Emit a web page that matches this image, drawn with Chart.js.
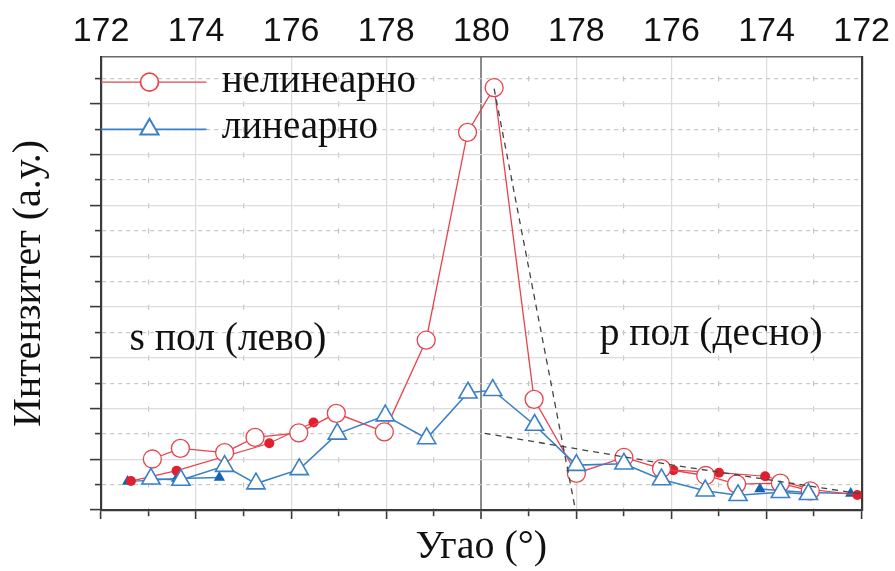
<!DOCTYPE html>
<html><head><meta charset="utf-8">
<script src="https://cdn.jsdelivr.net/npm/chart.js@4/dist/chart.umd.min.js"></script>
<style>html,body{margin:0;padding:0;background:#fff}#wrap{width:895px;height:571px}</style>
</head><body><div id="wrap"><canvas id="c" width="895" height="571"></canvas></div>
<script>
// Axis positions: 0 = left 172°, 8 = 180°, 16 = right 172°
const topTickLabels = ['172','174','176','178','180','178','176','174','172'];
const seriesNames = ['нелинеарно', 'линеарно'];
const regionLabels = ['s пол (лево)', 'p пол (десно)'];
const axisTitles = { x: 'Угао (°)', y: 'Интензитет (a.у.)' };

// нелинеарно (open circles)
const nonlinX = [1.08,1.67,2.60,3.24,4.16,4.95,5.96,6.84,7.71,8.27,9.11,10.0,11.0,11.79,12.72,13.37,14.29,14.92];
const nonlinY = [2.01,2.43,2.26,2.86,3.04,3.81,3.08,6.69,14.88,16.64,4.36,1.44,2.07,1.63,1.36,1.02,1.06,0.75];
// нелинеарно extra (filled dots)
const nonlinExtraLeftX = [0.63,1.59,3.54,4.47];
const nonlinExtraLeftY = [1.14,1.55,2.63,3.45];
const nonlinExtraRightX = [12.04,13.0,13.97,14.93,15.91];
const nonlinExtraRightY = [1.57,1.47,1.33,0.81,0.59];

// линеарно (open triangles)
const linX = [1.05,1.68,2.60,3.26,4.17,4.97,5.98,6.85,7.72,8.24,9.12,10.0,11.0,11.79,12.71,13.40,14.29,14.88];
const linY = [1.23,1.18,1.73,1.04,1.60,3.00,3.72,2.82,4.62,4.72,3.35,1.77,1.82,1.20,0.76,0.58,0.70,0.62];
// линеарно extra (filled triangles)
const linExtraLeftX = [0.56,1.59,2.49];
const linExtraLeftY = [1.12,1.24,1.28];
const linExtraRightX = [13.86,14.85,15.77];
const linExtraRightY = [0.83,0.69,0.65];

// dashed fit lines
const fitSteepX = [8.27, 9.97];
const fitSteepY = [16.6, 0.1];
const fitTailX = [8.07, 12.03, 16.0];
const fitTailY = [3.02, 1.77, 0.63];

const RED = '#e8434c', RED_FILL = '#e0202f', BLUE = '#3a80c6', BLUE_FILL = '#1462b0';
const SERIF = 'Liberation Serif', SANS = 'Liberation Sans';
const pts = (xs, ys) => xs.map((x, i) => ({ x, y: ys[i] }));

// layout for in-plot legend and labels (axis units)
const legendLayout = [
  { ds: 0, lineY: 16.86, x0: 0, x1: 2.22, mx: 1.02, tx: 2.54, ty: 16.46 },
  { ds: 1, lineY: 15.0, x0: 0, x1: 2.22, mx: 1.02, tx: 2.54, ty: 14.65 }
];
const regionLayout = [{ x: 0.6, y: 6.30 }, { x: 10.49, y: 6.50 }];

function drawMarker(ctx, style, x, y, r, fill, stroke, lw) {
  ctx.beginPath();
  if (style === 'triangle') {
    ctx.moveTo(x, y - r);
    ctx.lineTo(x + 0.866 * r, y + 0.5 * r);
    ctx.lineTo(x - 0.866 * r, y + 0.5 * r);
    ctx.closePath();
  } else {
    ctx.arc(x, y, r, 0, Math.PI * 2);
  }
  ctx.fillStyle = fill; ctx.fill();
  ctx.lineWidth = lw; ctx.strokeStyle = stroke; ctx.stroke();
}

const overlay = {
  id: 'overlay',
  afterDatasetsDraw(chart) {
    const { ctx, scales: { x, y } } = chart;
    ctx.save();
    legendLayout.forEach((it, i) => {
      const ds = chart.data.datasets[it.ds];
      const ly = y.getPixelForValue(it.lineY);
      ctx.beginPath();
      ctx.moveTo(x.getPixelForValue(it.x0), ly);
      ctx.lineTo(x.getPixelForValue(it.x1), ly);
      ctx.strokeStyle = ds.borderColor; ctx.lineWidth = ds.borderWidth; ctx.setLineDash([]);
      ctx.stroke();
      drawMarker(ctx, ds.pointStyle, x.getPixelForValue(it.mx), ly, ds.pointRadius, '#fff', ds.pointBorderColor, ds.pointBorderWidth + 0.4);
      ctx.fillStyle = '#111';
      ctx.font = '39px "' + SERIF + '"';
      ctx.textAlign = 'left'; ctx.textBaseline = 'alphabetic';
      ctx.fillText(seriesNames[i], x.getPixelForValue(it.tx), y.getPixelForValue(it.ty));
    });
    regionLayout.forEach((p, i) => {
      ctx.fillStyle = '#111';
      ctx.font = '39.5px "' + SERIF + '"';
      ctx.textAlign = 'left'; ctx.textBaseline = 'alphabetic';
      ctx.fillText(regionLabels[i], x.getPixelForValue(p.x), y.getPixelForValue(p.y));
    });
    ctx.restore();
  }
};

const isOdd = v => Math.abs(Math.round(v)) % 2 === 1;

new Chart(document.getElementById('c'), {
  type: 'line',
  data: {
    datasets: [
      { label: seriesNames[0], data: pts(nonlinX, nonlinY), borderColor: RED, borderWidth: 1.3,
        pointStyle: 'circle', pointRadius: 9, pointBorderWidth: 1.3, pointBackgroundColor: '#fff', pointBorderColor: RED, order: 2 },
      { label: seriesNames[1], data: pts(linX, linY), borderColor: BLUE, borderWidth: 1.6,
        pointStyle: 'triangle', pointRadius: 10.5, pointBorderWidth: 1.6, pointBackgroundColor: '#fff', pointBorderColor: BLUE, order: 1 },
      { label: 'nl-extra-l', data: pts(nonlinExtraLeftX, nonlinExtraLeftY), borderColor: RED, borderWidth: 1.2,
        pointStyle: 'circle', pointRadius: 5, pointBorderWidth: 0, pointBackgroundColor: RED_FILL, order: 3 },
      { label: 'nl-extra-r', data: pts(nonlinExtraRightX, nonlinExtraRightY), borderColor: RED, borderWidth: 1.2,
        pointStyle: 'circle', pointRadius: 5, pointBorderWidth: 0, pointBackgroundColor: RED_FILL, order: 3 },
      { label: 'l-extra-l', data: pts(linExtraLeftX, linExtraLeftY), borderColor: BLUE, borderWidth: 1.4,
        pointStyle: 'triangle', pointRadius: 6.5, pointBorderWidth: 0, pointBackgroundColor: BLUE_FILL, order: 4 },
      { label: 'l-extra-r', data: pts(linExtraRightX, linExtraRightY), borderColor: BLUE, borderWidth: 1.4,
        pointStyle: 'triangle', pointRadius: 6.5, pointBorderWidth: 0, pointBackgroundColor: BLUE_FILL, order: 4 },
      { label: 'fit-steep', data: pts(fitSteepX, fitSteepY), borderColor: '#444', borderWidth: 1.3, borderDash: [6, 5],
        pointRadius: 0, order: 0 },
      { label: 'fit-tail', data: pts(fitTailX, fitTailY), borderColor: '#444', borderWidth: 1.3, borderDash: [6, 5],
        pointRadius: 0, order: 0 }
    ]
  },
  options: {
    responsive: false, animation: false, devicePixelRatio: 1,
    layout: { padding: 0 },
    elements: { line: { tension: 0, fill: false } },
    plugins: { legend: { display: false }, tooltip: { enabled: false } },
    scales: {
      x: {
        type: 'linear', position: 'bottom', min: 0, max: 16,
        ticks: { stepSize: 1, display: false, includeBounds: false },
        grid: {
          color: c => c.tick && Math.round(c.tick.value) === 8 ? '#8a8a8a' : (c.tick && isOdd(c.tick.value) ? '#c4c4c4' : '#dcdcdc'),
          lineWidth: c => c.tick && Math.round(c.tick.value) === 8 ? 2 : 1.2,
          tickLength: 9, tickColor: '#3a3a3a', tickWidth: 1.6,
          tickBorderDash: c => c.tick && isOdd(c.tick.value) ? [5, 100] : [],
          drawOnChartArea: true
        },
        border: {
          color: '#3a3a3a', width: 2.2,
          dash: c => c.tick && isOdd(c.tick.value) ? [5, 20.4] : [],
          dashOffset: 6.2
        },
        title: { display: true, text: axisTitles.x, color: '#111', font: { family: SERIF, size: 40 }, padding: { top: 0, bottom: 0 } },
        afterFit: s => { s.height = 61; }
      },
      xTop: {
        type: 'linear', position: 'top', min: 0, max: 16,
        ticks: { stepSize: 2, includeBounds: false, padding: 5, color: '#111', font: { family: SANS, size: 34 },
                 maxRotation: 0, autoSkip: false,
                 callback: v => topTickLabels[Math.round(v / 2)] },
        grid: { drawOnChartArea: false, drawTicks: false },
        border: { color: '#6a6a6a', width: 1.5 },
        afterFit: s => { s.height = 57; }
      },
      y: {
        type: 'linear', position: 'left', min: 0, max: 17.85,
        ticks: { stepSize: 1, display: false, includeBounds: false },
        grid: {
          color: c => c.tick && isOdd(c.tick.value) ? '#c8c8c8' : '#dcdcdc',
          lineWidth: 1.2,
          tickLength: 11, tickColor: '#3a3a3a', tickWidth: 1.6,
          tickBorderDash: c => c.tick && isOdd(c.tick.value) ? [6, 100] : [],
          tickBorderDashOffset: c => c.tick && isOdd(c.tick.value) ? 101 : 0
        },
        border: {
          color: '#3a3a3a', width: 2.2,
          dash: c => c.tick && isOdd(c.tick.value) ? [4, 4] : []
        },
        title: { display: true, text: axisTitles.y, color: '#111', font: { family: SERIF, size: 40 }, padding: { top: 5, bottom: 0 } },
        afterFit: s => { s.width = 101; }
      },
      yRight: {
        type: 'linear', position: 'right', min: 0, max: 17.85,
        ticks: { display: false },
        grid: { drawOnChartArea: false, drawTicks: false },
        border: { color: '#3a3a3a', width: 2.2 },
        afterFit: s => { s.width = 33; }
      }
    }
  },
  plugins: [overlay]
});
</script>
</body></html>
